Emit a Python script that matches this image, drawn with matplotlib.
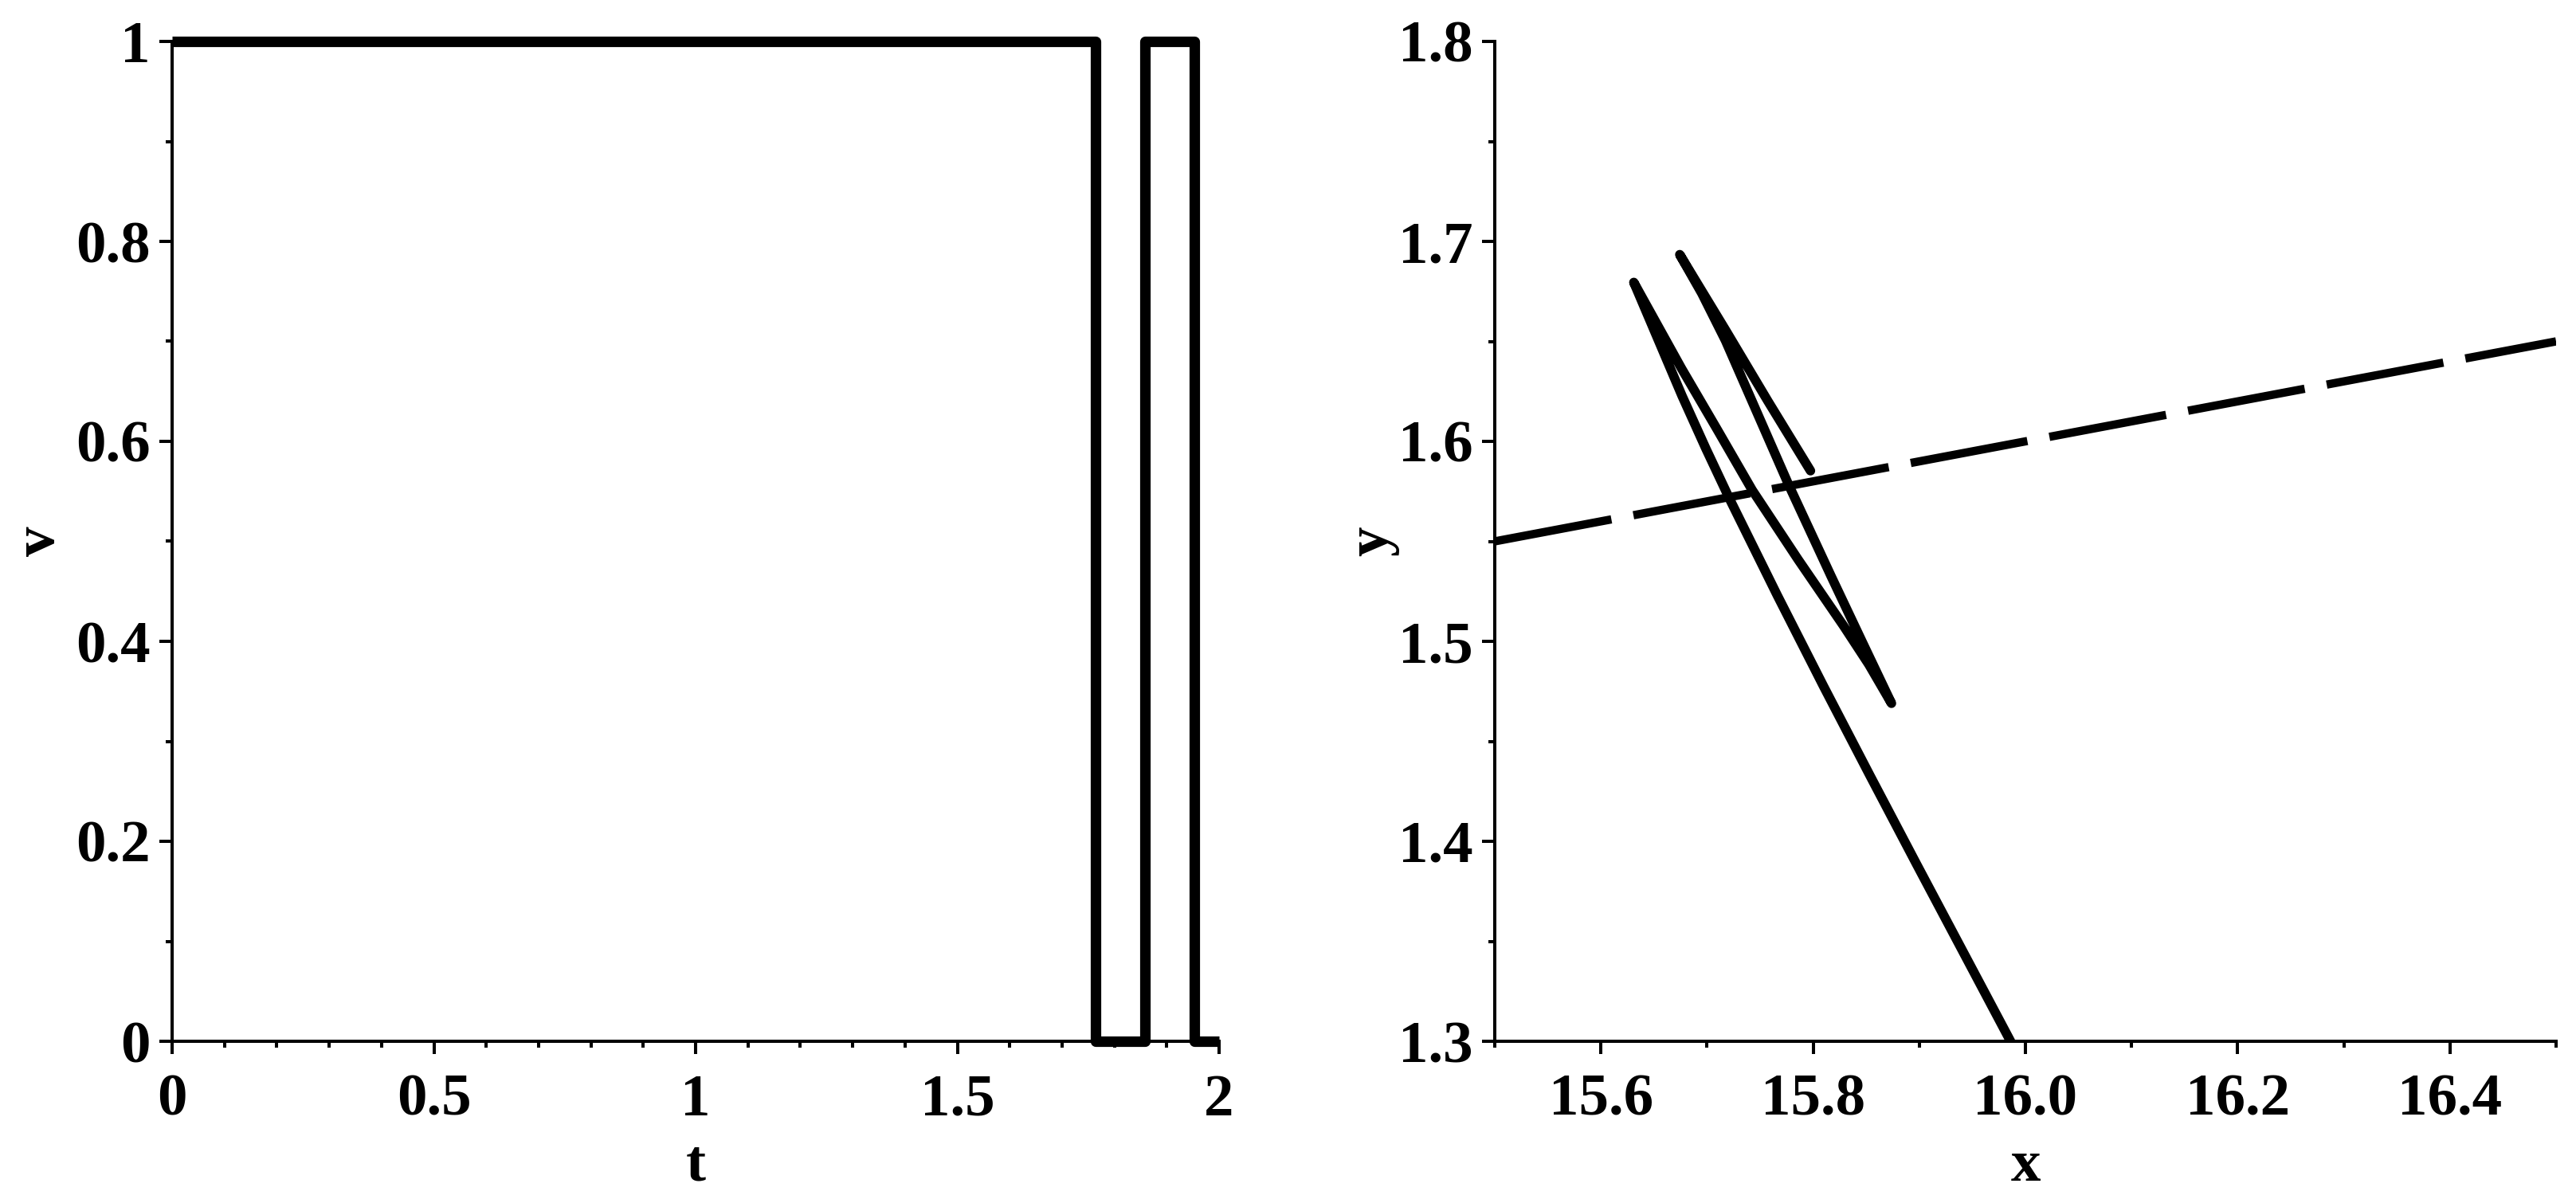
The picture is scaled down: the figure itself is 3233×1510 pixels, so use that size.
import matplotlib
matplotlib.use("Agg")
import matplotlib.pyplot as plt
from matplotlib.ticker import MultipleLocator, FixedLocator

plt.rcParams["font.family"] = ["Liberation Serif", "DejaVu Serif"]
plt.rcParams["font.weight"] = "bold"

# left panel: control v(t), switching times
t_switch = [0.0, 1.764, 1.859, 1.953, 2.0]
v_level = [1, 0, 1, 0, 0]

# right panel: trajectory in the x-y plane
traj_x = [15.986, 15.9417, 15.8974, 15.8535, 15.81, 15.7662, 15.721, 15.6989,
          15.6765, 15.6532, 15.631,
          15.6758, 15.7094, 15.7426, 15.7857, 15.8287, 15.8525, 15.8738,
          15.8465, 15.8168, 15.7768, 15.7471, 15.7174, 15.6951, 15.6743,
          15.7174, 15.7575, 15.7975]
traj_y = [1.300, 1.3443, 1.3886, 1.4329, 1.4773, 1.523, 1.5715, 1.5964,
          1.6227, 1.6518, 1.6795,
          1.6366, 1.6061, 1.5756, 1.541, 1.5077, 1.4884, 1.469,
          1.4994, 1.5327, 1.5784, 1.6144, 1.6504, 1.674, 1.6934,
          1.6557, 1.62, 1.5853]

# dashed reference line
line_x = [15.5, 16.5]
line_y = [1.55, 1.65]

W, H = 3233, 1510
fig = plt.figure(figsize=(W / 100, H / 100), dpi=100)

ax1 = fig.add_axes([216 / W, 1 - 1307 / H, (1530 - 216) / W, (1307 - 52) / H])
ax2 = fig.add_axes([1876 / W, 1 - 1307 / H, (3208 - 1876) / W, (1307 - 52) / H])

ax1.step(t_switch, v_level, where="post", color="black", lw=9.5,
         clip_on=False, solid_joinstyle="round", solid_capstyle="butt")
ax1.set_xlim(0, 2)
ax1.set_ylim(0, 1)
ax1.xaxis.set_major_locator(FixedLocator([0, 0.5, 1, 1.5, 2]))
ax1.set_xticklabels(["0", "0.5", "1", "1.5", "2"])
ax1.xaxis.set_minor_locator(MultipleLocator(0.1))
ax1.yaxis.set_major_locator(FixedLocator([0, 0.2, 0.4, 0.6, 0.8, 1]))
ax1.set_yticklabels(["0", "0.2", "0.4", "0.6", "0.8", "1"])
ax1.yaxis.set_minor_locator(MultipleLocator(0.1))
ax1.set_xlabel("t", fontsize=54, fontweight="bold", labelpad=10)
ax1.set_ylabel("v", fontsize=54, fontweight="bold", labelpad=8)

ax2.plot(traj_x, traj_y, color="black", lw=8.5, solid_capstyle="round",
         solid_joinstyle="round")
ax2.plot(line_x, line_y, color="black", lw=7.5, dashes=(14.3, 2.7),
         dash_capstyle="butt")
ax2.set_xlim(15.5, 16.5)
ax2.set_ylim(1.3, 1.8)
ax2.xaxis.set_major_locator(FixedLocator([15.6, 15.8, 16.0, 16.2, 16.4]))
ax2.set_xticklabels(["15.6", "15.8", "16.0", "16.2", "16.4"])
ax2.xaxis.set_minor_locator(FixedLocator([15.5, 15.7, 15.9, 16.1, 16.3, 16.5]))
ax2.yaxis.set_major_locator(FixedLocator([1.3, 1.4, 1.5, 1.6, 1.7, 1.8]))
ax2.set_yticklabels(["1.3", "1.4", "1.5", "1.6", "1.7", "1.8"])
ax2.yaxis.set_minor_locator(FixedLocator([1.35, 1.45, 1.55, 1.65, 1.75]))
ax2.set_xlabel("x", fontsize=54, fontweight="bold", labelpad=10)
ax2.set_ylabel("y", fontsize=54, fontweight="bold", labelpad=-1)

for ax in (ax1, ax2):
    ax.spines["top"].set_visible(False)
    ax.spines["right"].set_visible(False)
    ax.spines["left"].set_linewidth(2.9)
    ax.spines["bottom"].set_linewidth(2.9)
    ax.tick_params(which="major", direction="out", length=11.5, width=2.9,
                   labelsize=54, pad=8)
    ax.tick_params(axis="x", which="major", pad=18)
    ax.tick_params(which="minor", direction="out", length=6, width=2.9)
    for lab in ax.get_xticklabels() + ax.get_yticklabels():
        lab.set_fontweight("bold")
    ax.set_facecolor("white")

fig.savefig("out.png", dpi=100, facecolor="white")
